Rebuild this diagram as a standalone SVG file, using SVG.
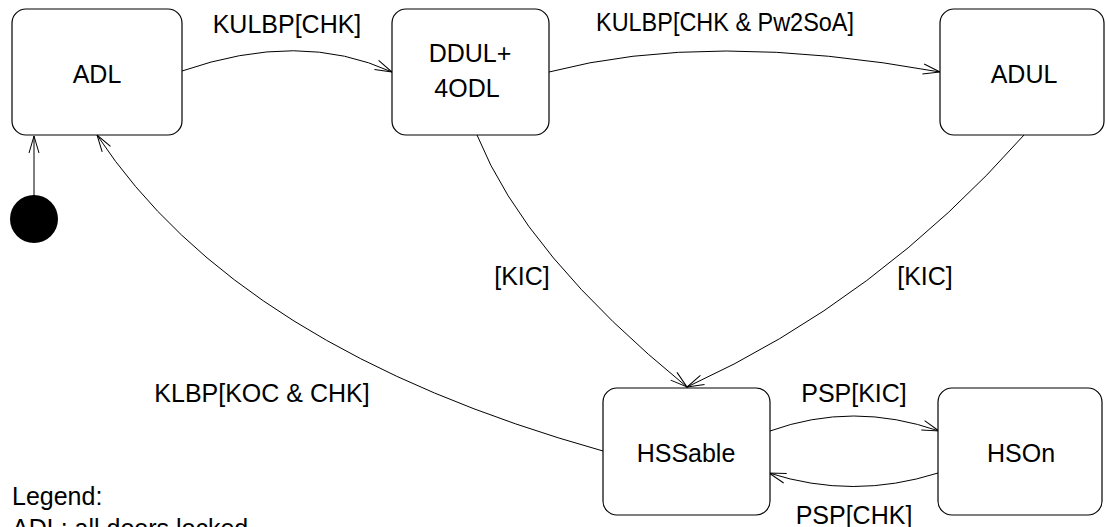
<svg xmlns="http://www.w3.org/2000/svg" width="1106" height="527" viewBox="0 0 1106 527">
<style>
.box{fill:#fff;stroke:#000;stroke-width:1.2}
.t{font-family:"Liberation Sans",Arial,sans-serif;font-size:25px;fill:#000}
.c{text-anchor:middle}
.edge{fill:none;stroke:#000;stroke-width:1}
</style>
<defs>
<marker id="arr" markerUnits="userSpaceOnUse" markerWidth="24" markerHeight="16" viewBox="-20 -8 24 16" refX="0" refY="0" orient="auto">
<path d="M-17,-5 L0,0 L-17,5" fill="none" stroke="#000" stroke-width="1"/>
</marker>
</defs>
<rect width="1106" height="527" fill="#fff"/>
<g id="connectors">
<path class="edge" d="M34,196 L34,136" stroke-width="1.5" marker-end="url(#arr)"/>
<path class="edge" d="M182,71 Q300,30 392,72" marker-end="url(#arr)"/>
<path class="edge" d="M549,72 Q708,30 940,72" marker-end="url(#arr)"/>
<path class="edge" d="M477,135 Q525,255 687,387" marker-end="url(#arr)"/>
<path class="edge" d="M1024,135 Q878,300 687,387" marker-end="url(#arr)"/>
<path class="edge" d="M603,451 Q238,349 97,135" marker-end="url(#arr)"/>
<path class="edge" d="M770,431 Q853,401 939,431" marker-end="url(#arr)"/>
<path class="edge" d="M938,473 Q853,500 769,473" marker-end="url(#arr)"/>
<text class="t c" x="287" y="33">KULBP[CHK]</text>
<text class="t c" x="725" y="31" textLength="258" lengthAdjust="spacingAndGlyphs">KULBP[CHK &amp; Pw2SoA]</text>
<text class="t c" x="522" y="285">[KIC]</text>
<text class="t c" x="925" y="285">[KIC]</text>
<text class="t c" x="262" y="402">KLBP[KOC &amp; CHK]</text>
<text class="t c" x="854" y="402">PSP[KIC]</text>
<text class="t c" x="854" y="524">PSP[CHK]</text>
</g>
<g id="initial"><circle cx="34" cy="219" r="24" fill="#000"/></g>
<g id="ADL"><rect class="box" x="12" y="9" width="170" height="126" rx="14"/><text class="t c" x="97" y="83">ADL</text></g>
<g id="DDUL"><rect class="box" x="392" y="9" width="157" height="126" rx="14"/><text class="t c" x="470" y="62">DDUL+</text><text class="t c" x="467" y="97">4ODL</text></g>
<g id="ADUL"><rect class="box" x="940" y="9" width="164" height="126" rx="14"/><text class="t c" x="1024" y="83">ADUL</text></g>
<g id="HSSable"><rect class="box" x="603" y="388" width="167" height="127" rx="14"/><text class="t c" x="686" y="462">HSSable</text></g>
<g id="HSOn"><rect class="box" x="938" y="388" width="164" height="127" rx="14"/><text class="t c" x="1021" y="462">HSOn</text></g>
<g id="legend">
<text class="t" x="12" y="505">Legend:</text>
<text class="t" x="12" y="537">ADL: all doors locked</text>
</g>
</svg>
